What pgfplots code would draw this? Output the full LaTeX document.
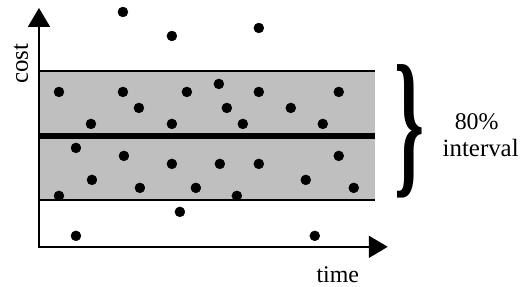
\documentclass[border=0pt]{standalone}
\usepackage{pgfplots}
\pgfplotsset{compat=1.18}
\usepackage{graphicx}
\usepackage{fontspec}
\setmainfont{Liberation Serif}
\usetikzlibrary{arrows.meta}
\begin{document}
\begin{tikzpicture}
\begin{axis}[
  scale only axis, width=522bp, height=287bp,
  xmin=0, xmax=522, ymin=0, ymax=287,
  hide axis, clip=false,
]
% 80% band
\addplot[fill=gray!50, draw=none] coordinates {(39,87) (375,87) (375,216) (39,216)} -- cycle;
\addplot[black, line width=1.6bp] coordinates {(39,216) (375,216)};
\addplot[black, line width=1.6bp] coordinates {(39,87) (375,87)};
% median line
\addplot[black, line width=6bp] coordinates {(39,151) (375,151)};
% axes
\addplot[black, line width=2bp, {Triangle[width=22bp,length=19bp]}-{Triangle[width=22bp,length=19bp]}] coordinates {(39,279) (39,40) (388,40)};
% points
\addplot[only marks, mark=*, mark size=5bp, black] coordinates {
(123,275) (172,251) (259,259)
(59,195) (123,195) (187,195) (259,195) (339,195) (219,203)
(139,179) (227,179) (291,179)
(91,163) (172,163) (243,163) (323,163)
(76,139) (124,131) (339,131)
(172,123) (220,123) (259,123)
(92,107) (306,107)
(140,99) (196,99) (354,99)
(59,91) (237,91)
(180,75) (76,51) (315,51)
};
% labels
\node[rotate=90, anchor=base, font=\fontsize{25}{30}\selectfont] at (axis cs:28,223) {cost};
\node[anchor=base, font=\fontsize{24}{28}\selectfont] at (axis cs:338,4) {time};
\node[anchor=base, font=\fontsize{24}{28}\selectfont] at (axis cs:477,157) {80\%};
\node[anchor=base, font=\fontsize{25}{28}\selectfont] at (axis cs:481,130) {interval};
\node[inner sep=0pt] at (axis cs:410,156) {\resizebox{30bp}{112bp}{\textbf{\}}}};
\end{axis}
\path (current axis.south west) rectangle (current axis.north east);
\end{tikzpicture}
\end{document}
